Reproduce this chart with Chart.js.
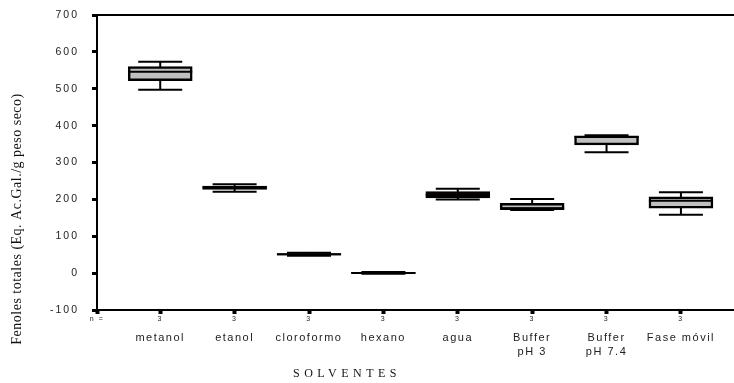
<!DOCTYPE html>
<html>
<head>
<meta charset="utf-8">
<script src="https://cdn.jsdelivr.net/npm/chart.js@4"></script>
<style>
  html, body { margin: 0; background: #fff; }
</style>
</head>
<body>
<canvas id="boxChart" width="734" height="383"></canvas>
<script>
// solvents and box plot stats (mg Eq. Ac.Gal./g)
const categories = ['metanol', 'etanol', 'cloroformo', 'hexano', 'agua', ['Buffer', 'pH 3'], ['Buffer', 'pH 7.4'], 'Fase móvil'];
const nCounts = [3, 3, 3, 3, 3, 3, 3, 3];
const minVals    = [497, 221, 47, -2, 200, 171, 328, 158];
const q1Vals     = [522, 227, 49, -1, 204, 172, 348, 176];
const medianVals = [546, 232, 51, 0.5, 212, 176, 369, 196];
const q3Vals     = [560, 236, 53, 2, 221, 189, 372, 207];
const maxVals    = [573, 241, 55, 3, 229, 201, 374, 219];
const yTicks = [-100, 0, 100, 200, 300, 400, 500, 600, 700];

const yTitle = 'Fenoles totales (Eq. Ac.Gal./g peso seco)';
const xTitle = 'SOLVENTES';

// narrow boxes print almost black in the original
const boxFill = ['#c0c0c0', '#2a0505', '#c0c0c0', '#c0c0c0', '#2a0505', '#c0c0c0', '#c0c0c0', '#c0c0c0'];

const X_MIN = 0.15, X_MAX = 8.7;
const pos = categories.map((c, i) => i + 1);

// whiskers: one vertical segment per solvent, broken by null points
const whiskerPts = [];
pos.forEach((x, i) => {
  whiskerPts.push({ x: x, y: minVals[i] }, { x: x, y: maxVals[i] }, { x: x, y: null });
});
const capPts = [];
pos.forEach((x, i) => {
  capPts.push({ x: x, y: minVals[i] }, { x: x, y: maxVals[i] });
});

// text spacing + axis titles
const textPlugin = {
  id: 'textPlugin',
  beforeLayout(chart) { chart.ctx.letterSpacing = '1.5px'; },
  beforeDraw(chart) { chart.ctx.letterSpacing = '1.5px'; },
  afterDatasetsDraw(chart) { chart.ctx.letterSpacing = '2px'; },
  afterDraw(chart) {
    const ctx = chart.ctx;
    ctx.save();
    ctx.fillStyle = '#111';
    ctx.textAlign = 'center';
    ctx.textBaseline = 'middle';
    ctx.font = '14px "Liberation Serif", "Times New Roman", serif';
    ctx.letterSpacing = '0.5px';
    ctx.translate(17, 219);
    ctx.rotate(-Math.PI / 2);
    ctx.fillText(yTitle, 0, 0);
    ctx.restore();

    ctx.save();
    ctx.fillStyle = '#111';
    ctx.textAlign = 'center';
    ctx.textBaseline = 'middle';
    ctx.font = '12px "Liberation Serif", "Times New Roman", serif';
    ctx.letterSpacing = '4.5px';
    ctx.fillText(xTitle, 347, 374);
    ctx.restore();
  }
};

const ctx = document.getElementById('boxChart').getContext('2d');
new Chart(ctx, {
  type: 'bar',
  data: {
    datasets: [
      {
        type: 'line',
        data: whiskerPts,
        borderColor: '#000',
        borderWidth: 2,
        pointRadius: 0,
        spanGaps: false,
        order: 4
      },
      {
        type: 'bar',
        data: pos.map((x, i) => ({ x: x, y: [q1Vals[i], q3Vals[i]] })),
        backgroundColor: boxFill,
        borderColor: '#000',
        borderWidth: 2.5,
        borderSkipped: false,
        barThickness: 64,
        order: 3
      },
      {
        type: 'scatter',
        data: pos.map((x, i) => ({ x: x, y: medianVals[i] })),
        pointStyle: 'line',
        pointRadius: 32,
        borderColor: '#000',
        borderWidth: 2,
        order: 2
      },
      {
        type: 'scatter',
        data: capPts,
        pointStyle: 'line',
        pointRadius: 22,
        borderColor: '#000',
        borderWidth: 2,
        order: 1
      }
    ]
  },
  options: {
    responsive: false,
    animation: false,
    events: [],
    layout: { autoPadding: false, padding: { left: 30, top: 15, right: 1, bottom: 7 } },
    plugins: { legend: { display: false }, tooltip: { enabled: false } },
    scales: {
      x: {
        type: 'linear',
        position: 'bottom',
        offset: false,
        min: X_MIN,
        max: X_MAX,
        weight: 0,
        afterBuildTicks: s => { s.ticks = [X_MIN].concat(pos).map(v => ({ value: v })); },
        afterFit: s => { s.height = 12; s.paddingLeft = 0; s.paddingRight = 0; },
        grid: { display: true, offset: false, drawOnChartArea: false, tickLength: 4, tickWidth: 4, tickColor: '#000' },
        border: { display: true, color: '#000', width: 2 },
        ticks: {
          autoSkip: false, maxRotation: 0, padding: 1,
          color: '#222',
          font: { family: 'Liberation Sans, Arial, sans-serif', size: 7 },
          callback: (v, i) => i === 0 ? 'n =' : String(nCounts[i - 1])
        }
      },
      xNames: {
        type: 'linear',
        axis: 'x',
        position: 'bottom',
        offset: false,
        min: X_MIN,
        max: X_MAX,
        weight: 1,
        afterBuildTicks: s => { s.ticks = pos.map(v => ({ value: v })); },
        afterFit: s => { s.height = 54; s.paddingLeft = 0; s.paddingRight = 0; },
        grid: { display: false, offset: false },
        border: { display: false },
        ticks: {
          autoSkip: false, maxRotation: 0, padding: 1,
          color: '#222',
          font: { family: 'Liberation Sans, Arial, sans-serif', size: 11, lineHeight: 1.27 },
          callback: (v, i) => categories[i]
        }
      },
      xTop: {
        type: 'linear',
        axis: 'x',
        position: 'top',
        offset: false,
        min: X_MIN,
        max: X_MAX,
        afterFit: s => { s.height = 0; },
        grid: { display: false, offset: false },
        border: { display: true, color: '#000', width: 2 },
        ticks: { display: false }
      },
      y: {
        min: -100,
        max: 700,
        afterBuildTicks: s => { s.ticks = yTicks.map(v => ({ value: v })); },
        afterFit: s => { s.width = 67; s.paddingTop = 0; s.paddingBottom = 0; },
        grid: { display: true, drawOnChartArea: false, tickLength: 5, tickWidth: 3, tickColor: '#000' },
        border: { display: true, color: '#000', width: 2 },
        ticks: {
          z: 1,
          padding: 13,
          color: '#222',
          font: { family: 'Liberation Sans, Arial, sans-serif', size: 10.5 }
        }
      }
    }
  },
  plugins: [textPlugin]
});
</script>
</body>
</html>
